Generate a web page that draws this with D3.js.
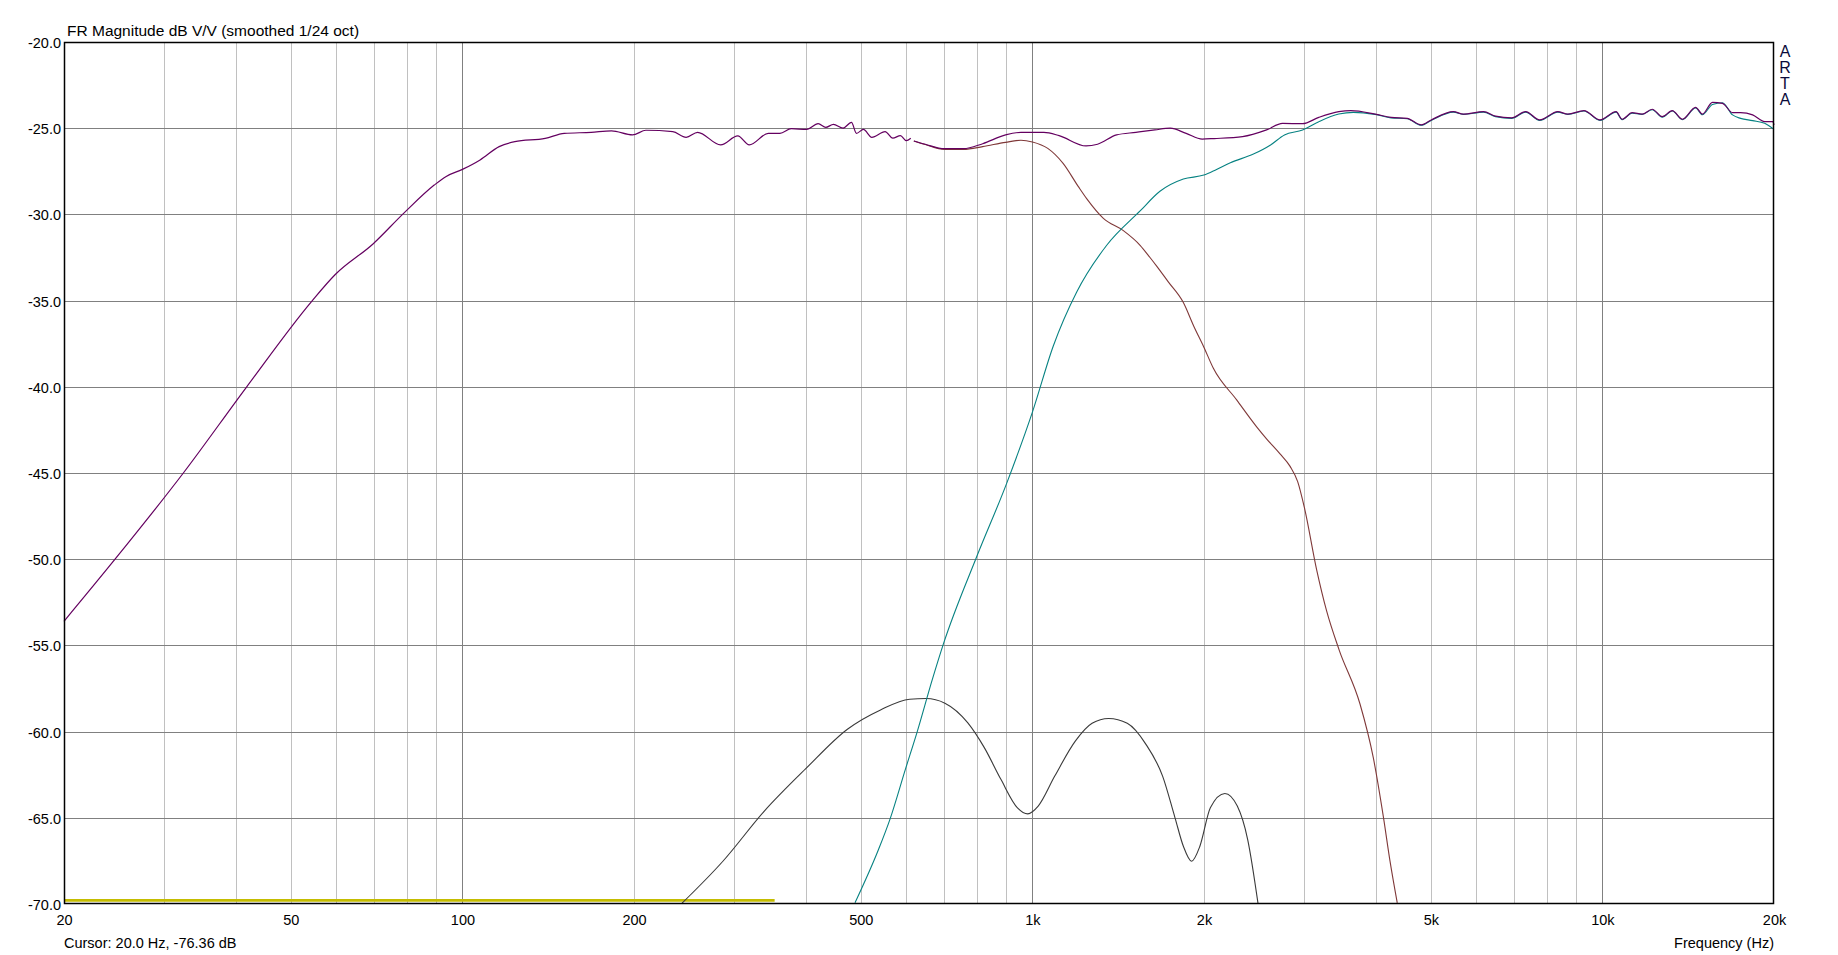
<!DOCTYPE html>
<html>
<head>
<meta charset="utf-8">
<script src="https://cdn.jsdelivr.net/npm/d3@7"></script>
<style>
  html, body { margin: 0; padding: 0; background: #fff; }
  svg { display: block; }
  text { font-family: "Liberation Sans", Arial, sans-serif; fill: #000; }
</style>
</head>
<body>
<svg id="chart" width="1838" height="955"></svg>
<script>
// ---------- data ----------
const xTickValues = [20, 50, 100, 200, 500, 1000, 2000, 5000, 10000, 20000];
const xTickLabels = ["20", "50", "100", "200", "500", "1k", "2k", "5k", "10k", "20k"];
const yTickValues = [-20, -25, -30, -35, -40, -45, -50, -55, -60, -65, -70];
const yTickLabels = ["-20.0", "-25.0", "-30.0", "-35.0", "-40.0", "-45.0", "-50.0", "-55.0", "-60.0", "-65.0", "-70.0"];
const minorGridFreqs = [30, 40, 50, 60, 70, 80, 90, 200, 300, 400, 500, 600, 700, 800, 900,
  2000, 3000, 4000, 5000, 6000, 7000, 8000, 9000];
const majorGridFreqs = [100, 1000, 10000];

// total response (purple)
const totalFreq = [20, 24.58, 32.39, 41.84, 54.4, 59.77, 69.76, 78.85, 89.24, 93.5, 100, 107.4, 116, 123.6, 139.7,
  150.9, 168.2, 182.6, 198.8, 209.9, 233.9, 246.9, 258.6, 283.8, 304.2, 318.6, 344.2, 360.6, 377.6, 401.8,
  420.8, 434, 447.6, 465.3, 481.4, 491.3, 505.2, 522.6, 551.6, 568.9, 586.8, 600.6, 611.8, 615, 619.4,
  648.8, 701.1, 757.2, 818, 897.4, 954.8, 1047.6, 1114, 1242, 1301, 1405, 1519, 1640, 1745, 1861,
  1986, 2084, 2337, 2575, 2747, 2978, 3180, 3448, 3620, 3991, 4258, 4544, 4810, 5008, 5476,
  5702, 6186, 6494, 6929, 7333, 7762, 8350, 8695, 9282, 9902, 10568, 10828, 11275, 11742, 12228,
  12734, 13261, 13810, 14571, 14976, 15597, 16244, 16916, 17474, 18346, 19261, 19897, 20000];
const totalDb = [-53.6, -50.0, -45.0, -40.0, -35.04, -33.5, -31.7, -29.94, -28.3, -27.81, -27.39, -26.84, -26.07, -25.78, -25.59,
  -25.3, -25.24, -25.16, -25.39, -25.12, -25.2, -25.53, -25.24, -25.97, -25.45, -25.97, -25.3, -25.3, -25.03, -25.07,
  -24.74, -24.95, -24.78, -25.0, -24.66, -25.3, -25.07, -25.53, -25.2, -25.58, -25.43, -25.72, -25.58, null, -25.74,
  -25.93, -26.19, -26.19, -25.9, -25.39, -25.24, -25.24, -25.43, -26.03, -25.93, -25.39, -25.24, -25.1, -25.0, -25.3,
  -25.63, -25.6, -25.49, -25.1, -24.72, -24.74, -24.37, -24.04, -23.98, -24.18, -24.37, -24.43, -24.81, -24.52, -24.04,
  -24.18, -24.04, -24.3, -24.4, -24.04, -24.52, -24.04, -24.18, -23.98, -24.52, -24.04, -24.48, -24.1, -24.18, -23.9,
  -24.33, -23.98, -24.48, -23.79, -24.18, -23.5, -23.56, -24.1, -24.1, -24.23, -24.62, -24.62, -24.81];

// woofer (brown)
const wooferFreq = [619.4, 648.8, 701.1, 757.2, 818, 897.4, 954.8, 1000, 1064, 1132, 1204, 1246, 1332, 1444,
  1545, 1608, 1652, 1730, 1839, 1920, 1999, 2076, 2282, 2474, 2577, 2719, 2830, 2920, 3000, 3152,
  3282, 3453, 3756, 3964, 4128, 4240, 4366];
const wooferDb = [-25.74, -25.95, -26.23, -26.23, -26.07, -25.82, -25.7, -25.8, -26.17, -27.04, -28.39, -29.1, -30.23, -30.94,
  -31.79, -32.5, -33.0, -33.9, -35.1, -36.5, -37.7, -38.91, -40.76, -42.32, -43.03, -43.89, -44.6, -45.5, -47.0, -50.6,
  -53.0, -55.27, -58.4, -61.53, -64.95, -67.51, -69.93];

// tweeter (teal)
const tweeterFreq = [488.4, 537, 562.4, 598.6, 628, 667.7, 697.8, 798.4, 901.2, 1000, 1088, 1196, 1350, 1545, 1674,
  1840, 1999, 2104, 2225, 2442, 2617, 2768, 2978, 3180, 3448, 3657, 3991, 4258, 4544, 4810,
  5008, 5476, 5702, 6186, 6494, 6929, 7333, 7762, 8350, 8695, 9282, 9902, 10568, 10828, 11275,
  11742, 12228, 12734, 13261, 13810, 14571, 14976, 15597, 16244, 16916, 17474, 18346, 19261, 20000];
const tweeterDb = [-69.93, -66.84, -65.09, -62.19, -60.0, -56.96, -54.93, -49.86, -45.6, -41.47, -37.63, -34.5, -31.79, -29.8, -28.66,
  -27.95, -27.72, -27.39, -27.0, -26.5, -25.97, -25.39, -25.1, -24.62, -24.18, -24.08, -24.2, -24.4, -24.45, -24.83,
  -24.55, -24.07, -24.2, -24.07, -24.33, -24.43, -24.07, -24.55, -24.07, -24.2, -24.0, -24.55, -24.07, -24.5, -24.13,
  -24.2, -23.93, -24.36, -24.0, -24.5, -23.83, -24.22, -23.62, -23.52, -24.23, -24.43, -24.56, -24.72, -25.07];

// difference / other curve (dark grey)
const diffFreq = [242.4, 286.4, 338.6, 400.3, 473.6, 541.4, 609, 651.1, 702.3, 769.8, 823.4, 880.4, 941.4, 981.6,
  1023.6, 1094.4, 1190, 1272.6, 1360.8, 1467, 1582, 1692, 1779, 1840, 1902, 1967, 2052, 2176, 2288, 2386, 2488];
const diffDb = [-69.98, -67.52, -64.61, -62.15, -59.86, -58.74, -58.12, -58.08, -58.35, -59.48, -60.93, -62.77, -64.42, -64.77,
  -64.32, -62.58, -60.54, -59.52, -59.24, -59.52, -60.74, -62.58, -65.0, -66.65, -67.52, -66.65, -64.42, -63.59, -64.32, -66.26, -69.98];

// noise floor (yellow)
const noiseFreq = [20, 353];
const noiseDb = [-69.79, -69.79];

// ---------- layout ----------
const plotL = 64, plotR = 1774, plotT = 42, plotB = 904;
const svg = d3.select("#chart");

const x = d3.scaleLog().domain([20, 20000]).range([plotL, plotR]);
const y = d3.scaleLinear().domain([-70, -20]).range([plotB, plotT]);
const px = v => Math.round(v) + 0.5;

// grid
const grid = svg.append("g");
grid.selectAll("line.minor").data(minorGridFreqs).join("line").attr("class", "minor")
  .attr("x1", d => px(x(d))).attr("x2", d => px(x(d)))
  .attr("y1", plotT).attr("y2", plotB)
  .attr("stroke", "#c0c0c0").attr("stroke-width", 1);
grid.selectAll("line.major").data(majorGridFreqs).join("line").attr("class", "major")
  .attr("x1", d => px(x(d))).attr("x2", d => px(x(d)))
  .attr("y1", plotT).attr("y2", plotB)
  .attr("stroke", "#808080").attr("stroke-width", 1);
grid.selectAll("line.h").data(yTickValues.slice(1, -1)).join("line").attr("class", "h")
  .attr("x1", plotL).attr("x2", plotR)
  .attr("y1", d => px(y(d))).attr("y2", d => px(y(d)))
  .attr("stroke", "#808080").attr("stroke-width", 1);

// curves
const mk = (fs, ds) => fs.map((f, i) => ({ f, db: ds[i] }));
const line = d3.line()
  .defined(d => d.db !== null)
  .x(d => x(d.f)).y(d => y(d.db))
  .curve(d3.curveMonotoneX);

const curves = [
  { data: mk(noiseFreq, noiseDb), color: "#c4bc00", w: 2.6 },
  { data: mk(diffFreq, diffDb), color: "#3a3a3a", w: 1.1 },
  { data: mk(wooferFreq, wooferDb), color: "#7f3838", w: 1.1 },
  { data: mk(tweeterFreq, tweeterDb), color: "#078282", w: 1.1 },
  { data: mk(totalFreq, totalDb), color: "#640060", w: 1.2 }
];
svg.append("g").selectAll("path").data(curves).join("path")
  .attr("d", d => line(d.data))
  .attr("fill", "none")
  .attr("stroke", d => d.color)
  .attr("stroke-width", d => d.w)
  .attr("stroke-linejoin", "round");

// frame
svg.append("rect")
  .attr("x", plotL + 0.5).attr("y", plotT + 0.5)
  .attr("width", plotR - plotL - 1).attr("height", plotB - plotT - 1)
  .attr("fill", "none").attr("stroke", "#000").attr("stroke-width", 1.5);

// axes
const xAxis = svg.append("g").attr("transform", `translate(0,${plotB})`)
  .call(d3.axisBottom(x).tickValues(xTickValues)
    .tickFormat((d, i) => xTickLabels[i]).tickSize(0).tickPadding(11));
xAxis.select(".domain").remove();
xAxis.selectAll("text").style("font-size", "14.5px").style("font-family", "'Liberation Sans', Arial, sans-serif").attr("fill", "#000");

const yAxis = svg.append("g").attr("transform", `translate(${plotL},0)`)
  .call(d3.axisLeft(y).tickValues(yTickValues).tickFormat((d, i) => yTickLabels[i]).tickSize(0).tickPadding(3));
yAxis.select(".domain").remove();
yAxis.selectAll("text").attr("dy", "0.38em").style("font-size", "14.5px").style("font-family", "'Liberation Sans', Arial, sans-serif").attr("fill", "#000");

// texts
svg.append("text").attr("x", 67).attr("y", 36).style("font-size", "15.5px")
  .text("FR Magnitude dB V/V (smoothed 1/24 oct)");
svg.append("text").attr("x", 64).attr("y", 948).style("font-size", "14.5px")
  .text("Cursor: 20.0 Hz, -76.36 dB");
svg.append("text").attr("x", 1774).attr("y", 948).attr("text-anchor", "end").style("font-size", "14.5px")
  .text("Frequency (Hz)");
const arta = ["A", "R", "T", "A"];
svg.append("g").selectAll("text").data(arta).join("text")
  .attr("x", 1785).attr("y", (d, i) => 57 + i * 16)
  .attr("text-anchor", "middle").style("font-size", "16px").style("fill", "#0a0a3a")
  .text(d => d);
</script>
</body>
</html>
